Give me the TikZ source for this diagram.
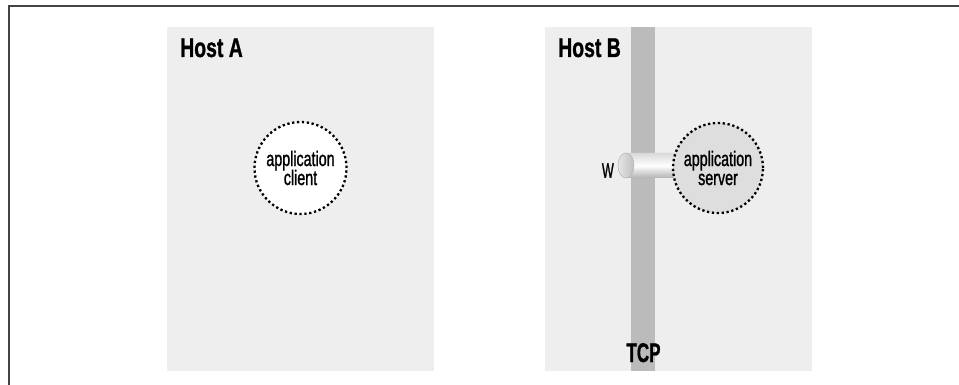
\documentclass[tikz,border=0pt]{standalone}
\usepackage{fontspec}
\setmainfont{Liberation Sans}
\newfontfamily\lblfont[FakeBold=1.5]{Liberation Sans}
\newfontfamily\ttlfont[FakeBold=1.2]{Liberation Sans Bold}
\usetikzlibrary{shapes.geometric}
\definecolor{hostbg}{HTML}{EEEEEE}
\definecolor{tcpbar}{HTML}{BBBBBB}
\definecolor{srvfill}{HTML}{DEDEDE}
\definecolor{frame}{HTML}{444444}
\begin{document}
\begin{tikzpicture}[x=1pt,y=-1pt,
  hosttitle/.style={anchor=base west,inner sep=0pt,font=\fontsize{27}{28}\ttlfont},
  proc/.style={circle,minimum size=92pt,inner sep=0pt,draw=black,line width=2.3pt,
     dash pattern=on 2.3pt off 2.6pt,align=center,
     font=\fontsize{21}{22}\lblfont},
  lbl/.style={inner sep=0pt}
]
\useasboundingbox (0,0) rectangle (959,385);
% frame
\draw[frame,line width=2pt] (9,385) -- (9,6) -- (959,6);
% hosts
\fill[hostbg] (167,27) rectangle (434,371);
\fill[hostbg] (545,27) rectangle (812,371);
\node[hosttitle] (ha) at (180,57) {\scalebox{0.72}[1]{Host A}};
\node[hosttitle] (hb) at (558,57) {\scalebox{0.72}[1]{Host B}};
% TCP bar
\fill[tcpbar] (631,27) rectangle (655,371);
\node[hosttitle,anchor=base] (tcp) at (643.5,362) {\scalebox{0.63}[1]{TCP}};
% client
\node[proc,fill=white] (cli) at (300.5,168) {\scalebox{0.68}[1]{application}\\[-3pt]\scalebox{0.68}[1]{client}};
% cylinder (socket)
\shade[top color=gray!30,bottom color=gray!60,middle color=white]
  (626,153) -- (674,153) .. controls (683,153) and (683,178) .. (674,178) -- (626,178) -- cycle;
\shade[left color=gray!20,right color=gray!50,draw=gray!55,line width=0.6pt]
  (626,165.5) ellipse[x radius=8,y radius=12.5];
% server
\node[proc,fill=srvfill,minimum size=90pt] (srv) at (718,168) {\scalebox{0.68}[1]{application}\\[-3pt]\scalebox{0.68}[1]{server}};
\node[lbl,anchor=east,font=\fontsize{21}{21}\lblfont] (w) at (614,170.5) {\scalebox{0.6}[1]{W}};
\end{tikzpicture}
\end{document}
